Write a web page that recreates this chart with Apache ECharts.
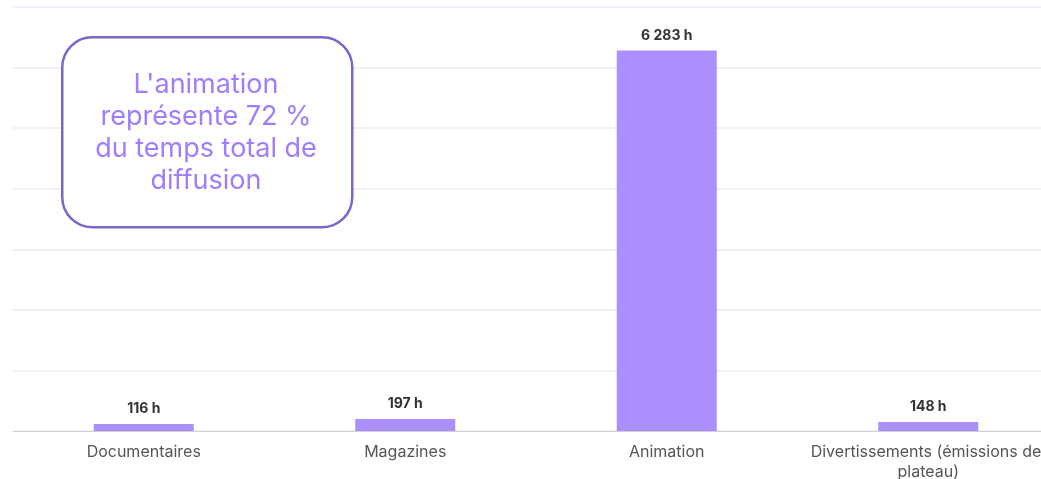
<!DOCTYPE html>
<html>
<head>
<meta charset="utf-8">
<script src="https://cdn.jsdelivr.net/npm/echarts@6/dist/echarts.min.js"></script>
<style>
  html, body { margin: 0; padding: 0; background: #fff; overflow: hidden; }
  /* plot is a bit wider than the window, the right edge gets cut like the source */
  #chart_box { width: 1059px; height: 479px; }
</style>
</head>
<body>
<div id="chart_box"></div>
<script>
const categories = [
  "Documentaires",
  "Magazines",
  "Animation",
  "Divertissements (émissions de plateau)",
];
const hours = [116, 197, 6283, 148];
const noteText = "L'animation\nreprésente 72 %\ndu temps total de\ndiffusion";

const fontName = "Inter, 'Noto Sans', sans-serif";

function fmtHours(v) {
  return String(v).replace(/\B(?=(\d{3})+(?!\d))/g, " ") + " h";
}

let myChart = echarts.init(document.getElementById("chart_box"));
myChart.setOption({
  animation: false,
  grid: {
    left: 13,
    right: 0,
    top: 7,
    bottom: 48,
    outerBoundsMode: "none",
  },
  xAxis: {
    type: "category",
    data: categories,
    axisTick: { show: false },
    axisLine: {
      lineStyle: { color: "#d0d0d0", width: 1 },
    },
    axisLabel: {
      interval: 0,
      margin: 11,
      color: "#555",
      fontSize: 16,
      fontFamily: fontName,
      lineHeight: 20,
      width: 250,
      overflow: "break",
    },
  },
  yAxis: {
    type: "value",
    min: 0,
    max: 7000,
    interval: 1000,
    axisLabel: { show: false },
    axisLine: { show: false },
    axisTick: { show: false },
    splitLine: { lineStyle: { color: "#eef1f8", width: 2 } },
  },
  series: [
    {
      type: "bar",
      data: hours,
      barWidth: 100,
      itemStyle: { color: "#ab8fff" },
      label: {
        show: true,
        position: "top",
        distance: 8,
        color: "#333",
        fontSize: 14,
        fontWeight: "bold",
        fontFamily: fontName,
        formatter: (p) => fmtHours(p.value),
      },
    },
  ],
  graphic: [
    {
      type: "rect",
      left: 61,
      top: 36,
      shape: { width: 290, height: 190, r: 30 },
      style: { fill: "#fff", stroke: "#7d66c9", lineWidth: 2.5 },
      z: 10,
    },
    {
      type: "text",
      x: 206,
      y: 133,
      z: 11,
      style: {
        text: noteText,
        align: "center",
        verticalAlign: "middle",
        fill: "#a07cff",
        fontSize: 27,
        lineHeight: 32,
        fontFamily: fontName,
      },
    },
  ],
});
</script>
</body>
</html>
